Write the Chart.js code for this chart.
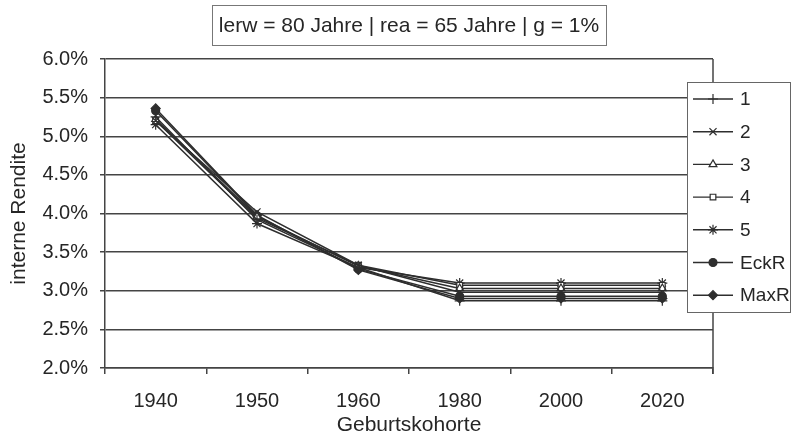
<!DOCTYPE html>
<html><head><meta charset="utf-8">
<script src="https://cdn.jsdelivr.net/npm/chart.js@4"></script>
<style>html,body{margin:0;padding:0;background:#fff}canvas{display:block}</style>
</head><body>
<canvas id="c" width="792" height="436"></canvas>
<script>
const categories = ['1940', '1950', '1960', '1980', '2000', '2020'];
const series1 = [5.25, 3.92, 3.30, 2.87, 2.87, 2.87];
const series2 = [5.20, 4.02, 3.33, 2.98, 2.98, 2.98];
const series3 = [5.22, 3.96, 3.32, 3.03, 3.03, 3.03];
const series4 = [5.20, 3.94, 3.33, 3.07, 3.07, 3.07];
const series5 = [5.15, 3.87, 3.30, 3.10, 3.10, 3.10];
const seriesEckR = [5.33, 3.97, 3.28, 2.93, 2.93, 2.93];
const seriesMaxR = [5.36, 3.98, 3.27, 2.90, 2.90, 2.90];
const seriesNames = ['1', '2', '3', '4', '5', 'EckR', 'MaxR'];
const yMin = 2.0, yMax = 6.0, yStep = 0.5;
const titleText = 'lerw = 80 Jahre | rea = 65 Jahre | g = 1%';
const xTitle = 'Geburtskohorte';
const yTitle = 'interne Rendite';

const FONT = '"Liberation Sans", Arial, sans-serif';
const LINE = '#2e2e2e';
const TEXT = '#262626';
const styles = [
  {pointStyle: 'cross', radius: 5, bg: LINE},
  {pointStyle: 'crossRot', radius: 5, bg: LINE},
  {pointStyle: 'triangle', radius: 4.5, bg: '#fff'},
  {pointStyle: 'rect', radius: 4, bg: '#fff'},
  {pointStyle: 'star', radius: 5, bg: LINE},
  {pointStyle: 'circle', radius: 4, bg: LINE},
  {pointStyle: 'rectRot', radius: 4.5, bg: LINE}
];
const allSeries = [series1, series2, series3, series4, series5, seriesEckR, seriesMaxR];

const datasets = allSeries.map((d, i) => ({
  label: seriesNames[i],
  data: d,
  borderColor: LINE,
  backgroundColor: styles[i].bg,
  borderWidth: 1.5,
  pointStyle: styles[i].pointStyle,
  pointRadius: styles[i].radius,
  pointBorderColor: LINE,
  pointBackgroundColor: styles[i].bg,
  pointBorderWidth: 1.2,
  tension: 0
}));

const decor = {
  id: 'decor',
  afterDraw(chart) {
    const ctx = chart.ctx;
    const ca = chart.chartArea;
    ctx.save();
    ctx.strokeStyle = '#444';
    ctx.lineWidth = 1.5;
    ctx.beginPath();
    ctx.moveTo(ca.right, ca.top);
    ctx.lineTo(ca.right, ca.bottom + 6);
    ctx.stroke();
    // title box
    ctx.fillStyle = '#fff';
    ctx.fillRect(212, 5, 394, 40);
    ctx.strokeStyle = '#777';
    ctx.lineWidth = 1;
    ctx.strokeRect(212.5, 5.5, 394, 40);
    ctx.fillStyle = TEXT;
    ctx.font = '21px ' + FONT;
    ctx.textAlign = 'center';
    ctx.textBaseline = 'middle';
    ctx.fillText(titleText, 409, 26);
    // legend box
    const lx = 687, ly = 82, lw = 103, lh = 230;
    ctx.fillStyle = '#fff';
    ctx.fillRect(lx, ly, lw, lh);
    ctx.strokeStyle = '#666';
    ctx.lineWidth = 1;
    ctx.strokeRect(lx + 0.5, ly + 0.5, lw, lh);
    ctx.font = '19px ' + FONT;
    ctx.textAlign = 'left';
    chart.data.datasets.forEach((ds, i) => {
      const y = 99 + i * 32.7;
      ctx.strokeStyle = LINE;
      ctx.lineWidth = 1.4;
      ctx.beginPath();
      ctx.moveTo(693, y);
      ctx.lineTo(733, y);
      ctx.stroke();
      ctx.fillStyle = ds.pointBackgroundColor;
      ctx.strokeStyle = LINE;
      ctx.lineWidth = 1.2;
      Chart.helpers.drawPoint(ctx, {pointStyle: ds.pointStyle, radius: ds.pointRadius, rotation: 0, borderWidth: 1.2}, 713, y);
      ctx.fillStyle = TEXT;
      ctx.fillText(ds.label, 740, y + 1);
    });
    ctx.restore();
  }
};

new Chart(document.getElementById('c'), {
  type: 'line',
  data: {labels: categories, datasets},
  options: {
    responsive: false,
    animation: false,
    devicePixelRatio: 1,
    layout: {padding: {top: 59, right: 79, left: 0, bottom: 0}},
    plugins: {legend: {display: false}, tooltip: {enabled: false}, title: {display: false}},
    scales: {
      x: {
        offset: true,
        grid: {offset: true, drawOnChartArea: false, color: '#444', lineWidth: 1.5, tickLength: 6, tickColor: '#444'},
        border: {color: '#444', width: 1.5},
        ticks: {color: TEXT, font: {family: FONT, size: 20}, padding: 15, maxRotation: 0},
        title: {display: true, text: xTitle, color: TEXT, font: {family: FONT, size: 21, lineHeight: 1}, padding: {top: 0, bottom: 0}},
        afterFit(s) { s.height = 68; }
      },
      y: {
        min: yMin, max: yMax,
        grid: {color: '#444', lineWidth: 1.5, tickLength: 5, tickColor: '#444'},
        border: {color: '#444', width: 1.5},
        ticks: {stepSize: yStep, color: TEXT, font: {family: FONT, size: 20}, padding: 12,
          callback: v => v.toFixed(1) + '%'},
        title: {display: true, text: yTitle, color: TEXT, font: {family: FONT, size: 21, lineHeight: 1}, padding: {top: 9, bottom: 0}},
        afterFit(s) { s.width = 105; }
      }
    }
  },
  plugins: [decor]
});
</script>
</body></html>
